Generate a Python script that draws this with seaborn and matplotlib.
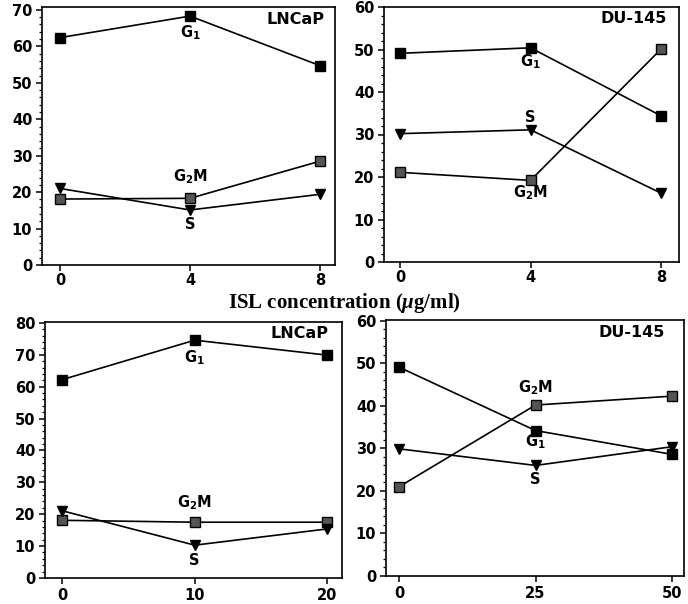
import matplotlib
matplotlib.use("Agg")
import matplotlib.pyplot as plt
from matplotlib.ticker import MultipleLocator
import seaborn as sns
import pandas as pd

# ---------------- data ----------------
conc_top = [0, 4, 8]
lncap_top_G1 = [62.4, 68.3, 54.7]
lncap_top_G2M = [18.1, 18.3, 28.5]
lncap_top_S = [21.0, 15.1, 19.4]

du_top_G1 = [49.1, 50.4, 34.4]
du_top_G2M = [21.1, 19.2, 50.1]
du_top_S = [30.2, 31.1, 16.2]

conc_bl = [0, 10, 20]
lncap_bot_G1 = [62.2, 74.6, 69.9]
lncap_bot_G2M = [18.1, 17.5, 17.5]
lncap_bot_S = [21.1, 10.3, 15.4]

conc_br = [0, 25, 50]
du_bot_G1 = [49.1, 34.2, 28.6]
du_bot_G2M = [21.0, 40.2, 42.3]
du_bot_S = [29.9, 26.0, 30.4]

xlabel_text = r"ISL concentration ($\mu$g/ml)"

# ---------------- style ----------------
sns.set_style("ticks")
plt.rcParams["font.family"] = ["DejaVu Sans"]
plt.rcParams["font.weight"] = "bold"
plt.rcParams["text.color"] = "black"
plt.rcParams["axes.labelcolor"] = "black"
plt.rcParams["xtick.color"] = "black"
plt.rcParams["ytick.color"] = "black"
plt.rcParams["mathtext.fontset"] = "custom"
plt.rcParams["mathtext.rm"] = "DejaVu Sans:bold"
plt.rcParams["mathtext.bf"] = "DejaVu Sans:bold"
plt.rcParams["mathtext.it"] = "Liberation Serif:italic:bold"

W, H = 688, 604
fig = plt.figure(figsize=(W / 100, H / 100), dpi=100)


def add_axes(left, right, top, bottom):
    return fig.add_axes([left / W, 1 - bottom / H, (right - left) / W, (bottom - top) / H])


panels = [
    dict(box=(42, 335, 7, 265), x=conc_top, G1=lncap_top_G1, G2M=lncap_top_G2M, S=lncap_top_S,
         xlim=(-0.554, 8.46), ylim=(0, 70.8), ymax=70, name="LNCaP",
         g1=(4, 63.7), g2m=(4, 24.2), s=(4, 11.0), name_pos=(0.965, 0.95)),
    dict(box=(384, 679, 7, 262), x=conc_top, G1=du_top_G1, G2M=du_top_G2M, S=du_top_S,
         xlim=(-0.49, 8.55), ylim=(0, 60), ymax=60, name="DU-145",
         g1=(4, 47.0), g2m=(4, 16.2), s=(4, 34.1), name_pos=(0.96, 0.955)),
    dict(box=(45, 342, 322, 578), x=conc_bl, G1=lncap_bot_G1, G2M=lncap_bot_G2M, S=lncap_bot_S,
         xlim=(-1.28, 21.1), ylim=(0, 80.3), ymax=80, name="LNCaP",
         g1=(10, 69.0), g2m=(10, 23.5), s=(10, 5.6), name_pos=(0.955, 0.955)),
    dict(box=(386, 684, 320, 576), x=conc_br, G1=du_bot_G1, G2M=du_bot_G2M, S=du_bot_S,
         xlim=(-2.4, 52.2), ylim=(0, 60.2), ymax=60, name="DU-145",
         g1=(25, 31.5), g2m=(25, 44.2), s=(25, 22.6), name_pos=(0.935, 0.95)),
]

for i, p in enumerate(panels):
    ax = add_axes(*p["box"])
    for phase, mk, fc in [("G1", "s", "black"), ("G2M", "s", "#555555"), ("S", "v", "black")]:
        df = pd.DataFrame({"conc": p["x"], "pct": p[phase]})
        sns.lineplot(data=df, x="conc", y="pct", ax=ax, color="black", linewidth=1.2,
                     marker=mk, markersize=6.5, markerfacecolor=fc,
                     markeredgecolor="black", markeredgewidth=1.0)
    ax.set_xlim(*p["xlim"])
    ax.set_ylim(*p["ylim"])
    ax.set_xticks(p["x"])
    ax.set_yticks(range(0, p["ymax"] + 1, 10))
    ax.yaxis.set_minor_locator(MultipleLocator(2))
    ax.set_xlabel("")
    ax.set_ylabel("")
    for sp in ax.spines.values():
        sp.set_visible(True)
        sp.set_linewidth(1.2)
        sp.set_color("black")
    ax.tick_params(axis="both", which="major", direction="out", length=4, width=1.1,
                   labelsize=10.5, pad=3, colors="black")
    if i < 2:
        ax.tick_params(axis="x", which="major", pad=2)
    ax.tick_params(axis="y", which="minor", direction="out", length=2.2, width=0.9)
    for lab in ax.get_xticklabels() + ax.get_yticklabels():
        lab.set_fontweight("bold")
    ax.text(*p["name_pos"], p["name"], transform=ax.transAxes, ha="right", va="center",
            fontsize=11.5, fontweight="bold", color="black")
    ax.text(*p["g1"], r"G$_\mathrm{1}$", ha="center", va="center", fontsize=10.5,
            fontweight="bold", color="black")
    ax.text(*p["g2m"], r"G$_\mathrm{2}$M", ha="center", va="center", fontsize=10.5,
            fontweight="bold", color="black")
    ax.text(*p["s"], "S", ha="center", va="center", fontsize=10.5, fontweight="bold",
            color="black")

fig.text(344 / W, 1 - 308 / H, xlabel_text, ha="center", va="baseline",
         fontsize=15, fontweight="bold", family="Liberation Serif", color="black")

fig.savefig("out.png", dpi=100)
